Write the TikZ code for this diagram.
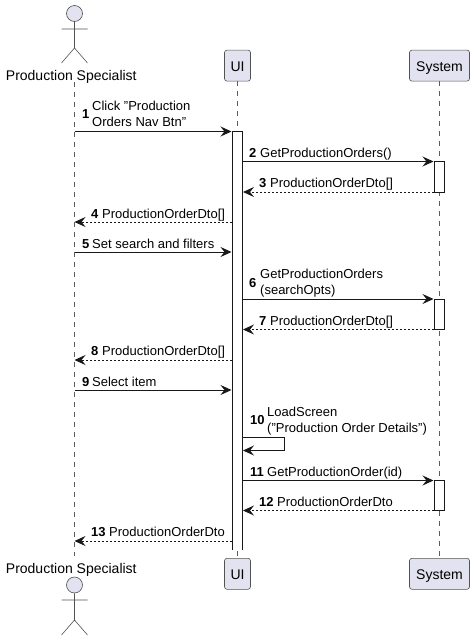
\documentclass[tikz,border=0pt]{standalone}
\usepackage{fontspec}
\setmainfont{Liberation Sans}
\usetikzlibrary{arrows.meta}
\definecolor{pfill}{HTML}{E2E2F0}
\definecolor{pline}{HTML}{181818}
\tikzset{
  x=1pt,y=-1pt,
  part/.style={draw=pline!75,fill=pfill,line width=0.6pt,rounded corners=2.5pt,minimum height=31pt,inner sep=0pt,text height=11.5pt,text depth=0pt,font=\fontsize{14}{16}\selectfont},
  life/.style={draw=pline!70,line width=0.6pt,dash pattern=on 5pt off 5pt},
  actorline/.style={draw=pline!75,line width=0.6pt},
  actorhead/.style={circle,draw=pline!75,fill=pfill,line width=0.6pt,minimum size=16pt,inner sep=0pt},
  actorname/.style={anchor=base,inner sep=0pt,font=\fontsize{14}{16}\selectfont},
  activation/.style={draw=pline,fill=white,line width=1pt},
  sync/.style={draw=pline,line width=1pt,-{Stealth[length=11pt,width=10pt,inset=4pt]}},
  reply/.style={draw=pline,line width=0.8pt,dash pattern=on 2pt off 2pt,-{Stealth[length=11pt,width=10pt,inset=4pt]}},
  msg/.style={anchor=base west,inner sep=0pt,font=\fontsize{13}{15}\selectfont},
  num/.style={anchor=base west,inner sep=0pt,font=\fontsize{13}{15}\selectfont\bfseries},
}
\begin{document}
\begin{tikzpicture}
\useasboundingbox (0,0) rectangle (474,640);
% lifelines
\coordinate (aT) at (74.5,82); \coordinate (aB) at (74.5,556);
\coordinate (uT) at (237.5,81); \coordinate (uB) at (237.5,558);
\coordinate (sT) at (439.5,81); \coordinate (sB) at (439.5,558);
\draw[life] (aT) -- (aB);
\draw[life] (uT) -- (uB);
\draw[life] (sT) -- (sB);
% participants
\node[part,minimum width=26pt] (uiTop) at (237.5,65.6) {UI};
\node[part,minimum width=60pt] (sysTop) at (439.5,65.6) {System};
\node[part,minimum width=26pt] (uiBot) at (237.5,573.8) {UI};
\node[part,minimum width=60pt] (sysBot) at (439.5,573.8) {System};
% top actor
\node[actorhead] (headT) at (74.5,13.5) {};
\coordinate (hipT) at (74.5,48);
\coordinate (armLT) at (61.5,29); \coordinate (armRT) at (87.5,29);
\coordinate (legLT) at (61.5,63); \coordinate (legRT) at (87.5,63);
\draw[actorline] (headT) -- (hipT) (armLT) -- (armRT) (legLT) -- (hipT) -- (legRT);
\node[actorname] (nameT) at (71.3,80) {Production Specialist};
% bottom actor
\node[actorhead] (headB) at (74.5,585) {};
\coordinate (hipB) at (74.5,620);
\coordinate (armLB) at (61.5,600); \coordinate (armRB) at (87.5,600);
\coordinate (legLB) at (61.5,635); \coordinate (legRB) at (87.5,635);
\draw[actorline] (headB) -- (hipB) (armLB) -- (armRB) (legLB) -- (hipB) -- (legRB);
\node[actorname] (nameB) at (71.3,573) {Production Specialist};
% activations
\fill[white] (232.5,131) rectangle (242.5,550);
\draw[activation,fill=none] (232.5,550) -- (232.5,131) -- (242.5,131) -- (242.5,550);
\draw[activation] (434.5,161.5) rectangle (444.5,192);
\draw[activation] (434.5,299) rectangle (444.5,329.5);
\draw[activation] (434.5,480) rectangle (444.5,510.5);
% coordinates
\foreach \n/\y in {1/131.5,4/222,5/252,8/360,9/390,13/541}{
  \coordinate (a\n) at (74.5,\y);
  \coordinate (u\n) at (231.5,\y);
}
\foreach \n/\y in {2/161.5,3/192,6/299,7/329.5,11/480.5,12/510.5}{
  \coordinate (ur\n) at (243,\y);
  \coordinate (s\n) at (433.5,\y);
}
\coordinate (loopA) at (243,437.5); \coordinate (loopB) at (284.5,437.5);
\coordinate (loopC) at (284.5,450.5); \coordinate (loopD) at (243,450.5);
% messages
\draw[sync] (a1) -- (u1);
\draw[sync] (ur2) -- (s2);
\draw[reply] (s3) -- (ur3);
\draw[reply] (u4) -- (a4);
\draw[sync] (a5) -- (u5);
\draw[sync] (ur6) -- (s6);
\draw[reply] (s7) -- (ur7);
\draw[reply] (u8) -- (a8);
\draw[sync] (a9) -- (u9);
\draw[sync] (loopA) -- (loopB) -- (loopC) -- (loopD);
\draw[sync] (ur11) -- (s11);
\draw[reply] (s12) -- (ur12);
\draw[reply] (u13) -- (a13);
% labels
\node[num] (n1) at (82,118) {1};
\node[msg] (t1a) at (92,110) {Click "Production};
\node[msg] (t1b) at (92,126) {Orders Nav Btn"};
\node[num] (n2) at (249,157) {2};
\node[msg] (t2) at (260,157) {GetProductionOrders()};
\node[num] (n3) at (259,187) {3};
\node[msg] (t3) at (270,187) {ProductionOrderDto[]};
\node[num] (n4) at (91,218) {4};
\node[msg] (t4) at (102,218) {ProductionOrderDto[]};
\node[num] (n5) at (82,248) {5};
\node[msg] (t5) at (92,248) {Set search and filters};
\node[num] (n6) at (249,287) {6};
\node[msg] (t6a) at (260,278) {GetProductionOrders};
\node[msg] (t6b) at (260,294) {(searchOpts)};
\node[num] (n7) at (259,325) {7};
\node[msg] (t7) at (270,325) {ProductionOrderDto[]};
\node[num] (n8) at (91,355) {8};
\node[msg] (t8) at (102,355) {ProductionOrderDto[]};
\node[num] (n9) at (82,386) {9};
\node[msg] (t9) at (92,386) {Select item};
\node[num] (n10) at (250,424) {10};
\node[msg] (t10a) at (267,416) {LoadScreen};
\node[msg] (t10b) at (267,432) {("Production Order Details")};
\node[num] (n11) at (250,476) {11};
\node[msg] (t11) at (267,476) {GetProductionOrder(id)};
\node[num] (n12) at (259,506) {12};
\node[msg] (t12) at (277,506) {ProductionOrderDto};
\node[num] (n13) at (91,536) {13};
\node[msg] (t13) at (109,536) {ProductionOrderDto};
\end{tikzpicture}
\end{document}
